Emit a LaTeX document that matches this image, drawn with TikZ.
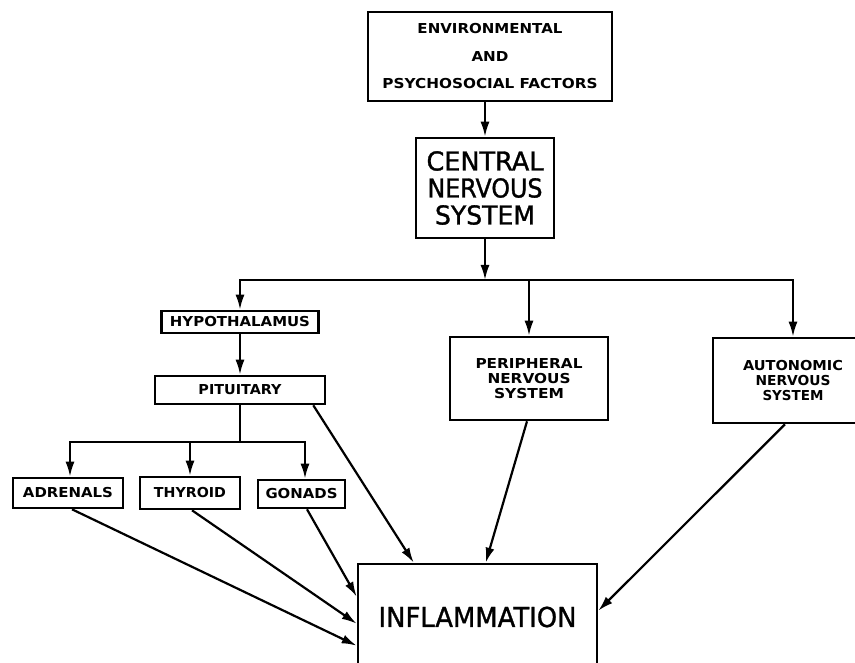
\documentclass[tikz,border=0pt]{standalone}
\usepackage{fontspec}
\usepackage{graphicx}
\setmainfont{DejaVu Sans}
\newfontfamily\bigfont[FakeBold=1.2]{DejaVu Sans}
\usetikzlibrary{arrows.meta}
\newcommand{\fw}[2]{\resizebox{#1pt}{\height}{#2}}
\tikzset{
  box/.style={draw, line width=2.6pt, inner sep=0pt, align=center, anchor=center},
  small/.style={font=\fontsize{13.7}{15}\selectfont\bfseries},
  arr/.style={line width=2.2pt, -{Latex[length=15pt,width=9pt]}},
  ln/.style={line width=2.2pt}
}
\begin{document}
\begin{tikzpicture}[x=1pt,y=-1pt]
\useasboundingbox (0,0) rectangle (855,663);
% boxes
\node[box, minimum width=244pt, minimum height=89pt, font=\fontsize{13.7}{27.5}\selectfont\bfseries]
  (env) at (490,56.5) {\fw{145}{ENVIRONMENTAL}\\\fw{37}{AND}\\\fw{215}{PSYCHOSOCIAL FACTORS}};
\node[box, minimum width=138pt, minimum height=100pt, font=\bigfont\fontsize{26}{27}\selectfont]
  (cns) at (485,188) {\fw{117}{CENTRAL}\\\fw{115}{NERVOUS}\\\fw{100}{SYSTEM}};
\node[box, small, minimum width=157pt, minimum height=22pt] (hypo) at (240,322) {\fw{140}{HYPOTHALAMUS}};
\node[box, small, minimum width=170pt, minimum height=28pt] (pit) at (240,390) {\fw{83}{PITUITARY}};
\node[box, small, minimum width=110pt, minimum height=30pt] (adr) at (68,493) {\fw{90}{ADRENALS}};
\node[box, small, minimum width=100pt, minimum height=32pt] (thy) at (190,493) {\fw{72}{THYROID}};
\node[box, small, minimum width=87pt, minimum height=28pt] (gon) at (301.5,494) {\fw{72}{GONADS}};
\node[box, small, minimum width=158pt, minimum height=83pt] (pns) at (529,378.5)
  {\fw{107}{PERIPHERAL}\\\fw{83}{NERVOUS}\\\fw{70}{SYSTEM}};
\node[box, small, minimum width=160pt, minimum height=85pt] (ans) at (793,380.5)
  {\fw{100}{AUTONOMIC}\\\fw{75}{NERVOUS}\\\fw{61}{SYSTEM}};
\node[box, minimum width=239pt, minimum height=106pt, font=\bigfont\fontsize{27.4}{30}\selectfont]
  (infl) at (477.5,617) {\fw{198}{INFLAMMATION}};
% connectors
\draw[arr] (cns.north |- env.south) -- (cns.north);
\coordinate (bus) at (485,280);
\draw[arr] (cns.south) -- (bus);
\draw[arr] (bus) -| (hypo.north);
\draw[arr] (bus) -| (pns.north);
\draw[arr] (bus) -| (ans.north);
\draw[arr] (hypo.south) -- (pit.north);
\coordinate (bus2) at (240,442);
\draw[ln] (pit.south) -- (bus2);
\draw[arr] (bus2) -| ([xshift=2pt]adr.north);
\draw[arr] (bus2) -| (thy.north);
\draw[arr] (bus2) -| ([xshift=3.5pt]gon.north);
% to inflammation
\draw[arr] ([xshift=4pt]adr.south) -- ([yshift=-83pt]infl.north west);
\draw[arr] ([xshift=2pt]thy.south) -- ([yshift=-61pt]infl.north west);
\draw[arr] ([xshift=5.5pt]gon.south) -- ([yshift=-34pt]infl.north west);
\draw[arr] ([xshift=-13pt]pit.south east) -- ([xshift=57pt]infl.north west);
\draw[arr] ([xshift=-2pt]pns.south) -- ([xshift=129pt]infl.north west);
\draw[arr] ([xshift=-8pt]ans.south) -- ([yshift=-48pt]infl.north east);
\end{tikzpicture}
\end{document}
